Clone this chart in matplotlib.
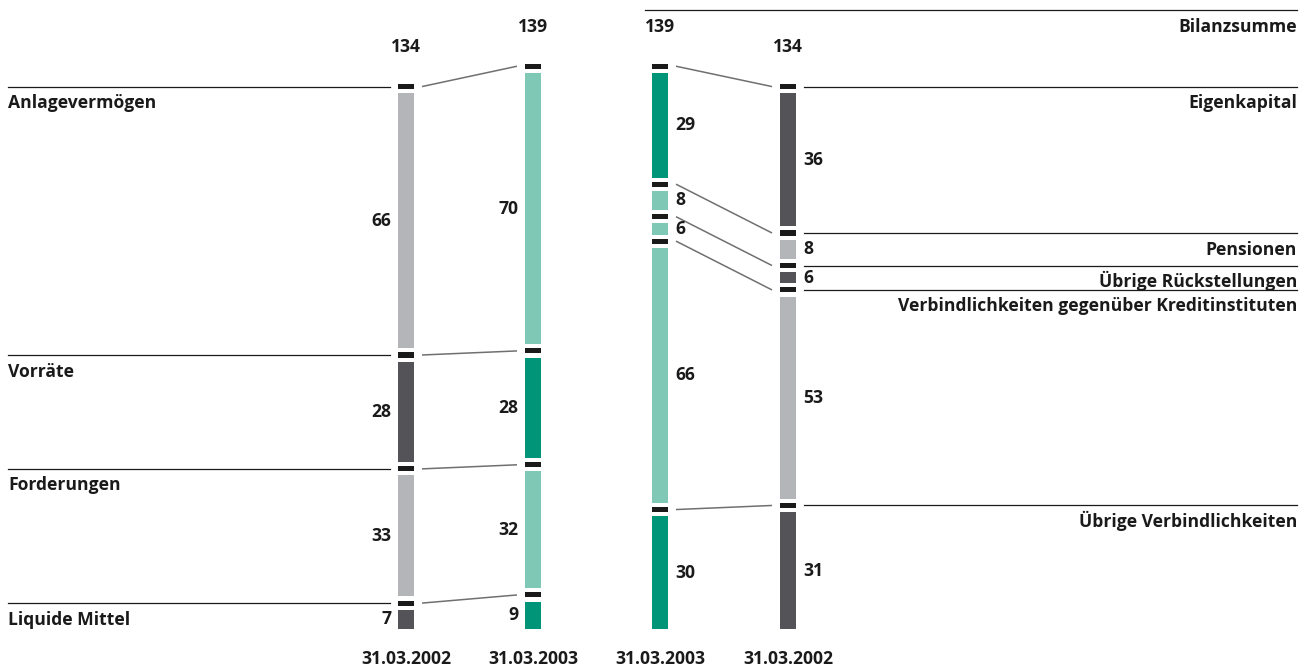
import matplotlib
matplotlib.use("Agg")
import matplotlib.pyplot as plt

plt.rcParams['font.family'] = ['Open Sans', 'DejaVu Sans']
plt.rcParams['font.weight'] = 'bold'

# Bilanzstruktur (Mio. EUR), Segmente jeweils von unten nach oben
aktiva_labels = ["Liquide Mittel", "Forderungen", "Vorräte", "Anlagevermögen"]
aktiva_2002 = [7, 33, 28, 66]
aktiva_2003 = [9, 32, 28, 70]

passiva_labels = ["Übrige Verbindlichkeiten",
                  "Verbindlichkeiten gegenüber Kreditinstituten",
                  "Übrige Rückstellungen", "Pensionen", "Eigenkapital"]
passiva_2003 = [30, 66, 6, 8, 29]
passiva_2002 = [31, 53, 6, 8, 36]

dates = ["31.03.2002", "31.03.2003", "31.03.2003", "31.03.2002"]

LGREY, DGREY = "#b3b5b8", "#545458"
LTEAL, TEAL = "#7fc8b5", "#009478"
BLACK = "#1a1a1a"

columns = [
    (406, aktiva_2002, [DGREY, LGREY, DGREY, LGREY], "left"),
    (533, aktiva_2003, [TEAL, LTEAL, TEAL, LTEAL], "left"),
    (660, passiva_2003, [TEAL, LTEAL, LTEAL, LTEAL, TEAL], "right"),
    (788, passiva_2002, [DGREY, LGREY, DGREY, LGREY, DGREY], "right"),
]

W = 16        # Balkenbreite
MH = 1.25     # Höhe der schwarzen Trennmarke
GAP = 1.0     # Abstand Marke / Balken
FS = 12.6

fig = plt.figure(figsize=(12.99, 6.67), dpi=100)
ax = fig.add_axes([0, 0, 1, 1])
ax.set_xlim(0, 1299)
ax.set_ylim(-9.34, 154.66)
ax.axis('off')

marker_y = []   # Mitte der Trennmarken je Säule
for i, (x, vals, cols, side) in enumerate(columns):
    b = 0
    mids = []
    for v, c in zip(vals, cols):
        t = b + v
        lo = b + GAP if b > 0 else b
        hi = t - MH - GAP
        ax.bar(x, hi - lo, bottom=lo, width=W, color=c, linewidth=0)
        ax.bar(x, MH, bottom=t - MH, width=W, color=BLACK, linewidth=0)
        mids.append(t - MH / 2)
        if side == "left":
            ax.annotate(str(v), (x - W / 2, (lo + hi) / 2), xytext=(-5, 0),
                        textcoords='offset points', ha='right', va='center',
                        fontsize=FS, color=BLACK)
        else:
            ax.annotate(str(v), (x + W / 2, (lo + hi) / 2), xytext=(5, 0),
                        textcoords='offset points', ha='left', va='center',
                        fontsize=FS, color=BLACK)
        b = t
    marker_y.append(mids)
    # Bilanzsumme über der Säule
    ax.annotate(str(sum(vals)), (x, b), xytext=(0, 23), textcoords='offset points',
                ha='center', va='baseline', fontsize=FS, color=BLACK)
    ax.annotate(dates[i], (x, 0), xytext=(0, -25), textcoords='offset points',
                ha='center', va='baseline', fontsize=FS, color=BLACK)

# Verbindungslinien zwischen den Säulen
for a, c in [(0, 1), (2, 3)]:
    xa = columns[a][0] + W / 2 + 8
    xc = columns[c][0] - W / 2 - 8
    for ya, yc in zip(marker_y[a], marker_y[c]):
        ax.plot([xa, xc], [ya, yc], color="#707070", lw=1.1, solid_capstyle='butt')

# Beschriftung Aktiva (links)
x0 = columns[0][0] - W / 2 - 8
for lab, y in zip(aktiva_labels, marker_y[0]):
    ax.plot([8, x0], [y, y], color=BLACK, lw=0.9)
    ax.annotate(lab, (8, y), xytext=(0, -15.5), textcoords='offset points',
                ha='left', va='baseline', fontsize=FS, color=BLACK)

# Beschriftung Passiva (rechts)
x1 = columns[3][0] + W / 2 + 8
for lab, y in zip(passiva_labels, marker_y[3]):
    ax.plot([x1, 1297], [y, y], color=BLACK, lw=0.9)
    ax.annotate(lab, (1297, y), xytext=(0, -15.5), textcoords='offset points',
                ha='right', va='baseline', fontsize=FS, color=BLACK)

# Bilanzsumme
y_top = 154.66 - 10 / 4.067
ax.plot([645, 1297], [y_top, y_top], color=BLACK, lw=0.9)
ax.annotate("Bilanzsumme", (1297, y_top), xytext=(0, -15.5), textcoords='offset points',
            ha='right', va='baseline', fontsize=FS, color=BLACK)

fig.savefig("out.png", dpi=100)
